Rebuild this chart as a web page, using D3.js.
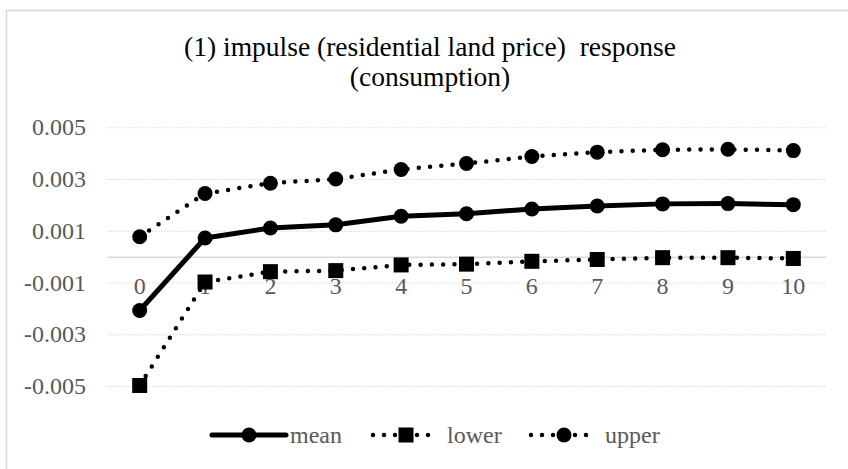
<!DOCTYPE html>
<html>
<head>
<meta charset="utf-8">
<script src="https://cdn.jsdelivr.net/npm/d3@7"></script>
<style>
  body { margin: 0; background: #fff; }
  svg { font-family: "Liberation Serif", "Times New Roman", serif; }
</style>
</head>
<body>
<svg width="848" height="469"></svg>
<script>
let svg = d3.select("svg")

// data
let categories = ["0", "1", "2", "3", "4", "5", "6", "7", "8", "9", "10"]
let meanVals  = [-0.00208, 0.00072, 0.00111, 0.00123, 0.00156, 0.00166, 0.00184, 0.00196, 0.00204, 0.00205, 0.00201]
let lowerVals = [-0.00498, -0.00098, -0.00058, -0.00054, -0.00032, -0.00029, -0.00018, -0.00011, -0.00004, -0.00004, -0.00007]
let upperVals = [0.00077, 0.00244, 0.00284, 0.00300, 0.00337, 0.00360, 0.00387, 0.00404, 0.00413, 0.00415, 0.00410]
let yTicks = [-0.005, -0.003, -0.001, 0.001, 0.003, 0.005]
let titleLines = ["(1) impulse (residential land price)  response", "(consumption)"]

let gray = "#d9d9d9", textGray = "#595959"
let plotLeft = 107, plotRight = 826, plotTop = 127.3, plotBottom = 386

// chart frame (cropped on right / bottom)
svg.append("path")
  .attr("d", "M6.5,480 V10.5 H860")
  .attr("fill", "none")
  .attr("stroke", gray)
  .attr("stroke-width", 1.5)

let x = d3.scaleBand().domain(categories).range([plotLeft, plotRight])
let cx = d => x(d) + x.bandwidth() / 2
let y = d3.scaleLinear().domain([-0.005, 0.005]).range([plotBottom, plotTop])

// gridlines
let grid = svg.append("g")
  .attr("transform", `translate(${plotLeft},0)`)
  .call(d3.axisLeft(y).tickValues(yTicks).tickSize(-(plotRight - plotLeft)).tickFormat(""))
grid.select(".domain").remove()
grid.selectAll(".tick line")
  .attr("stroke", gray)
  .attr("stroke-width", 1)
  .attr("stroke-dasharray", "1.5 1.5")

// y axis labels
let yAxisG = svg.append("g")
  .attr("transform", `translate(${plotLeft},0)`)
  .call(d3.axisLeft(y).tickValues(yTicks).tickSize(0).tickPadding(21).tickFormat(d => d.toFixed(3)))
yAxisG.select(".domain").remove()
yAxisG.selectAll("text")
  .attr("fill", textGray)
  .style("font-size", "24px")
  .style("font-family", "Liberation Serif")

// category axis at zero
let xAxisG = svg.append("g")
  .attr("transform", `translate(0,${y(0)})`)
  .call(d3.axisBottom(x).tickSize(0).tickPadding(20))
xAxisG.select(".domain").attr("stroke", gray).attr("stroke-width", 1.5)
xAxisG.selectAll("text")
  .attr("fill", textGray)
  .style("font-size", "24px")
  .style("font-family", "Liberation Serif")

let line = d3.line().x((d, i) => cx(categories[i])).y(d => y(d))

let series = [
  {name: "mean", vals: meanVals, dash: null, marker: "circle"},
  {name: "lower", vals: lowerVals, dash: "0 11.3", marker: "square"},
  {name: "upper", vals: upperVals, dash: "0 11.3", marker: "circle"}
]

let drawMarker = (g, type, px, py) => {
  if (type === "circle") {
    g.append("circle").attr("cx", px).attr("cy", py).attr("r", 7.5).attr("fill", "#000")
  } else {
    g.append("rect").attr("x", px - 7.5).attr("y", py - 7.5).attr("width", 15).attr("height", 15).attr("fill", "#000")
  }
}

series.forEach(s => {
  let g = svg.append("g")
  g.append("path")
    .attr("d", line(s.vals))
    .attr("fill", "none")
    .attr("stroke", "#000")
    .attr("stroke-width", s.dash ? 4.5 : 5)
    .attr("stroke-linecap", "round")
    .attr("stroke-linejoin", "round")
    .attr("stroke-dasharray", s.dash)
  s.vals.forEach((v, i) => drawMarker(g, s.marker, cx(categories[i]), y(v)))
})

// title
svg.append("text")
  .attr("text-anchor", "middle")
  .attr("fill", "#000")
  .style("font-size", "27.5px")
  .style("white-space", "pre")
  .selectAll("tspan")
  .data(titleLines)
  .join("tspan")
  .attr("x", 430)
  .attr("y", (d, i) => i ? 86 : 55.5)
  .text(d => d)

// legend
let legendX = [212, 369, 527]
let legendY = 435
series.forEach((s, i) => {
  let g = svg.append("g").attr("transform", `translate(${legendX[i]},${legendY})`)
  g.append("line")
    .attr("x1", s.dash ? 4 : 0).attr("x2", s.dash ? 70 : 74)
    .attr("stroke", "#000")
    .attr("stroke-width", s.dash ? 4.5 : 5)
    .attr("stroke-linecap", "round")
    .attr("stroke-dasharray", s.dash ? "0 11" : null)
  drawMarker(g, s.marker, 37, 0)
  g.append("text")
    .attr("x", 78)
    .attr("y", 8)
    .attr("fill", textGray)
    .style("font-size", "24px")
    .text(s.name)
})
</script>
</body>
</html>
